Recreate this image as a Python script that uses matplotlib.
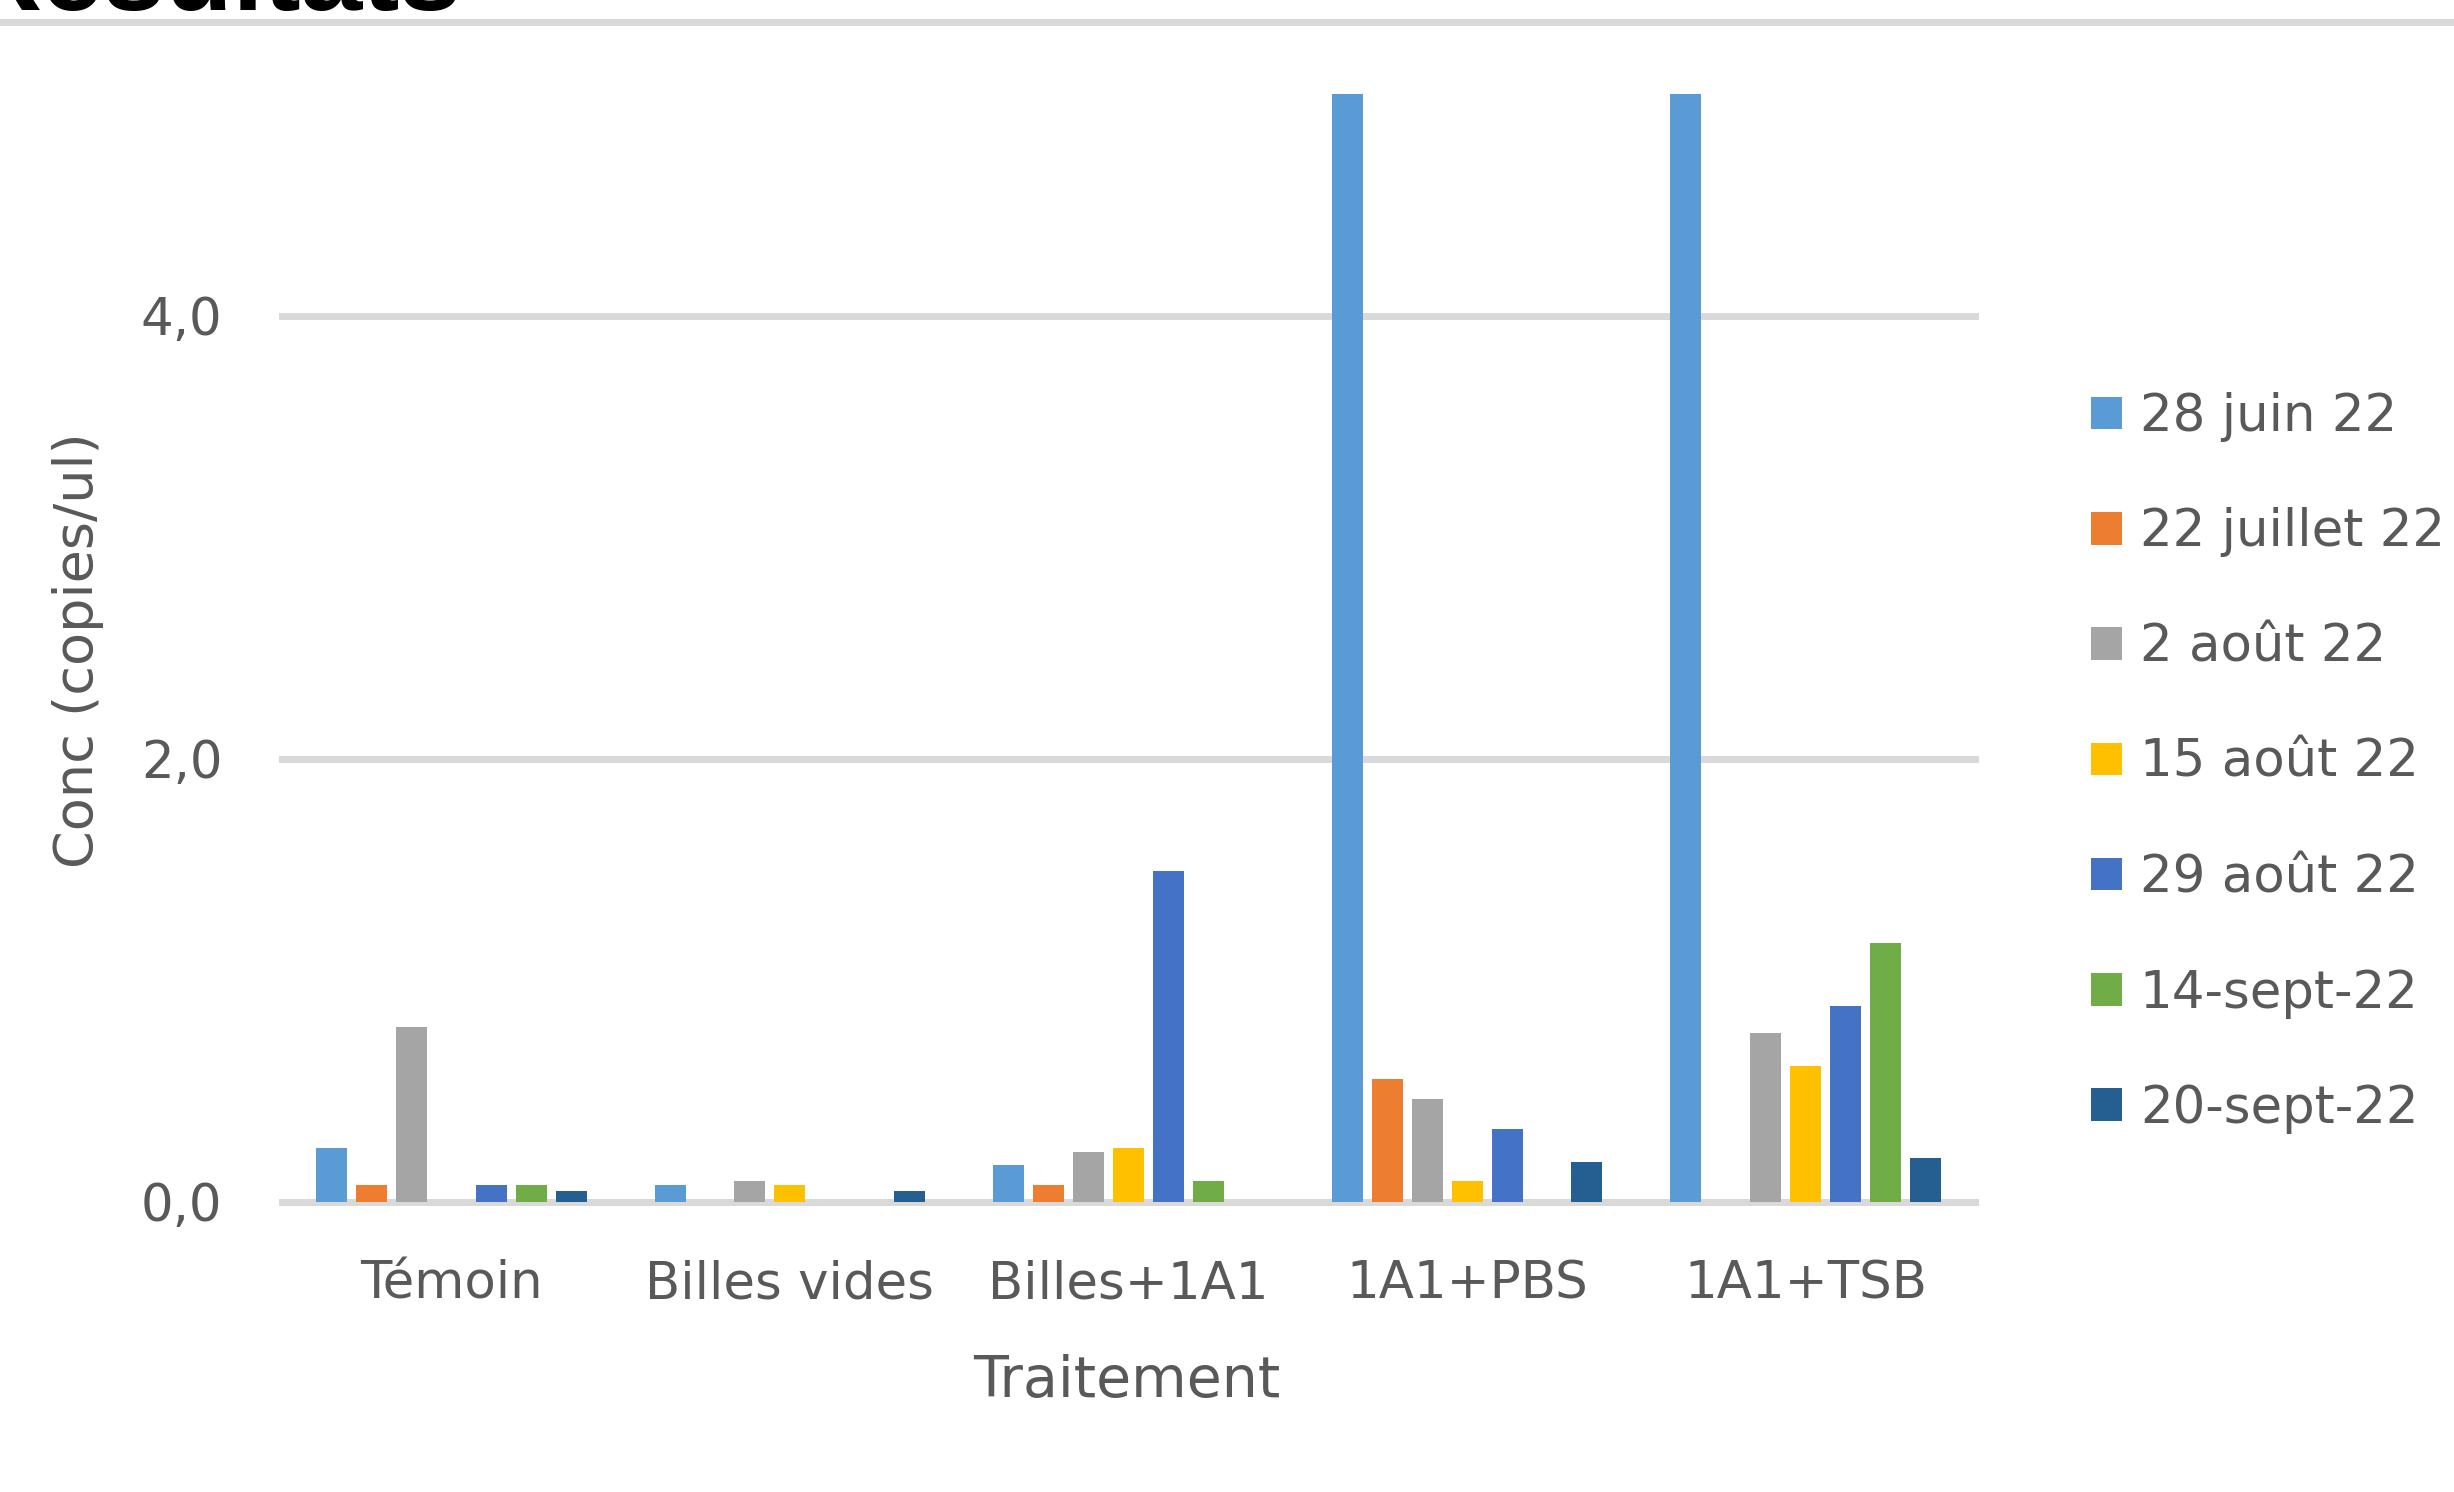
import matplotlib
matplotlib.use("Agg")
import matplotlib.pyplot as plt
from matplotlib.patches import Patch
import numpy as np

categories = ["Témoin", "Billes vides", "Billes+1A1", "1A1+PBS", "1A1+TSB"]
series_names = ["28 juin 22", "22 juillet 22", "2 août 22", "15 août 22",
                "29 août 22", "14-sept-22", "20-sept-22"]
colors = ["#5B9BD5", "#ED7D31", "#A5A5A5", "#FFC000", "#4472C4", "#70AD47", "#255E91"]

juin28 = [0.24, 0.074, 0.164, 5.6, 5.6]
juil22 = [0.074, 0.0, 0.074, 0.552, 0.0]
aout2 = [0.79, 0.092, 0.223, 0.462, 0.76]
aout15 = [0.0, 0.074, 0.24, 0.092, 0.611]
aout29 = [0.074, 0.0, 1.49, 0.327, 0.882]
sept14 = [0.074, 0.0, 0.092, 0.0, 1.166]
sept20 = [0.047, 0.047, 0.0, 0.178, 0.196]
series = [juin28, juil22, aout2, aout15, aout29, sept14, sept20]

yticks = [0, 2, 4]
ytick_labels = ["0,0", "2,0", "4,0"]

W, H = 2454, 1492
fig = plt.figure(figsize=(W / 100, H / 100), dpi=100)
fig.patch.set_facecolor("white")

txt_color = "#595959"
fs = 37

ax = fig.add_axes([282 / W, 1 - 1201.5 / H, (1975 - 282) / W, (1201.5 - 94) / H])
x = np.arange(len(categories))
slot = 0.118
bw = 0.0915
for i, (vals, col) in enumerate(zip(series, colors)):
    ax.bar(x + (i - 3) * slot, vals, width=bw, color=col, zorder=2)

ax.set_xlim(-0.5, len(categories) - 0.5)
ax.set_ylim(0, 5)
ax.set_yticks(yticks)
ax.set_yticklabels(ytick_labels)
ax.set_xticks(x)
ax.set_xticklabels(categories)
ax.tick_params(axis="both", length=0, labelsize=fs, labelcolor=txt_color)
ax.tick_params(axis="y", pad=43)
ax.tick_params(axis="x", pad=42)
for s in ax.spines.values():
    s.set_visible(False)
ax.grid(axis="y", color="#D9D9D9", linewidth=5, zorder=1)
ax.set_axisbelow(True)
for t in yticks:
    ax.axhline(t, color="#D9D9D9", linewidth=5, zorder=1.5, clip_on=False)

fig.text(1127 / W, 1 - 1382 / H, "Traitement", fontsize=41, color=txt_color,
         ha="center", va="center")
fig.text(78 / W, 1 - 650 / H, "Conc (copies/ul)", fontsize=39, color=txt_color,
         ha="center", va="center", rotation=90)

handles = [Patch(facecolor=c, edgecolor="none") for c in colors]
leg = fig.legend(handles, series_names, loc="center left",
                 bbox_to_anchor=(2091 / W, 1 - 763 / H), frameon=False,
                 fontsize=fs, handlelength=0.6, handleheight=0.6,
                 handletextpad=0.35, labelspacing=1.27, borderpad=0,
                 borderaxespad=0)
for t in leg.get_texts():
    t.set_color(txt_color)

# cropped title at top and separator line
fig.text(462 / W, 1 - 10 / H, "Résultats", fontsize=80, fontweight="bold",
         family=["Liberation Sans", "DejaVu Sans"], color="black",
         ha="right", va="baseline")
fig.add_artist(plt.Line2D([0, 1], [1 - 21.5 / H, 1 - 21.5 / H],
                          transform=fig.transFigure, color="#D9D9D9", linewidth=5))

fig.savefig("out.png", dpi=100, facecolor="white")
